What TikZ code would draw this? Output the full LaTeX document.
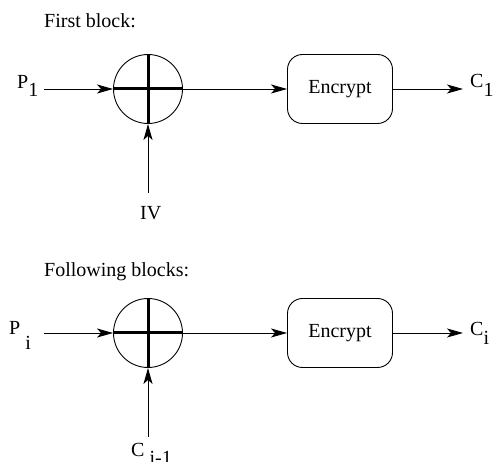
\documentclass[tikz,border=0pt]{standalone}
\usepackage{fontspec}
\setmainfont{Liberation Serif}
\usetikzlibrary{arrows.meta}
\tikzset{
  flow/.style={-{Stealth[length=16pt,width=9pt,inset=4pt]}, line width=0.9pt},
  xorop/.style={draw, circle, minimum size=69pt, inner sep=0pt, line width=0.9pt},
  cipher/.style={draw, rounded corners=15pt, minimum width=105pt, minimum height=69pt, line width=0.9pt},
  lbl/.style={anchor=base west, inner sep=0pt},
  cross/.style={line width=3pt},
}
\begin{document}
\begin{tikzpicture}[x=1pt,y=-1pt,font=\fontsize{20pt}{24pt}\selectfont]
  \useasboundingbox (0,0) rectangle (496,462);

  % First block
  \node[lbl] (title1) at (44,28) {First block:};
  \node[xorop] (xor1) at (148,89) {};
  \draw[cross] (xor1.north) -- (xor1.south);
  \draw[cross] (xor1.west) -- (xor1.east);
  \node[cipher] (enc1) at (340,89) {Encrypt};

  \node[lbl] (p1) at (17,89) {P\raisebox{-8pt}{1}};
  \node[lbl] (c1) at (470,88) {C\raisebox{-9pt}{1}};
  \node[lbl] (iv) at (140,220) {IV};
  \coordinate (in1) at (44,89);
  \coordinate (out1) at (463,89);
  \coordinate (ivtop) at (148,193);

  \draw[flow] (in1) -- (xor1);
  \draw[flow] (ivtop) -- (xor1);
  \draw[flow] (xor1) -- (enc1);
  \draw[flow] (enc1) -- (out1);

  % Following blocks
  \node[lbl] (title2) at (44,277) {Following blocks:};
  \node[xorop] (xor2) at (148,333) {};
  \draw[cross] (xor2.north) -- (xor2.south);
  \draw[cross] (xor2.west) -- (xor2.east);
  \node[cipher] (enc2) at (340,333) {Encrypt};

  \node[lbl] (pi) at (9,335) {P \raisebox{-15pt}{i}};
  \node[lbl] (ci) at (470,336) {C\raisebox{-9pt}{i}};
  \node[lbl] (cprev) at (131,457) {C \raisebox{-8pt}{i-1}};
  \coordinate (ini) at (44,333);
  \coordinate (outi) at (463,333);
  \coordinate (cprevtop) at (148,437);

  \draw[flow] (ini) -- (xor2);
  \draw[flow] (cprevtop) -- (xor2);
  \draw[flow] (xor2) -- (enc2);
  \draw[flow] (enc2) -- (outi);
\end{tikzpicture}
\end{document}
